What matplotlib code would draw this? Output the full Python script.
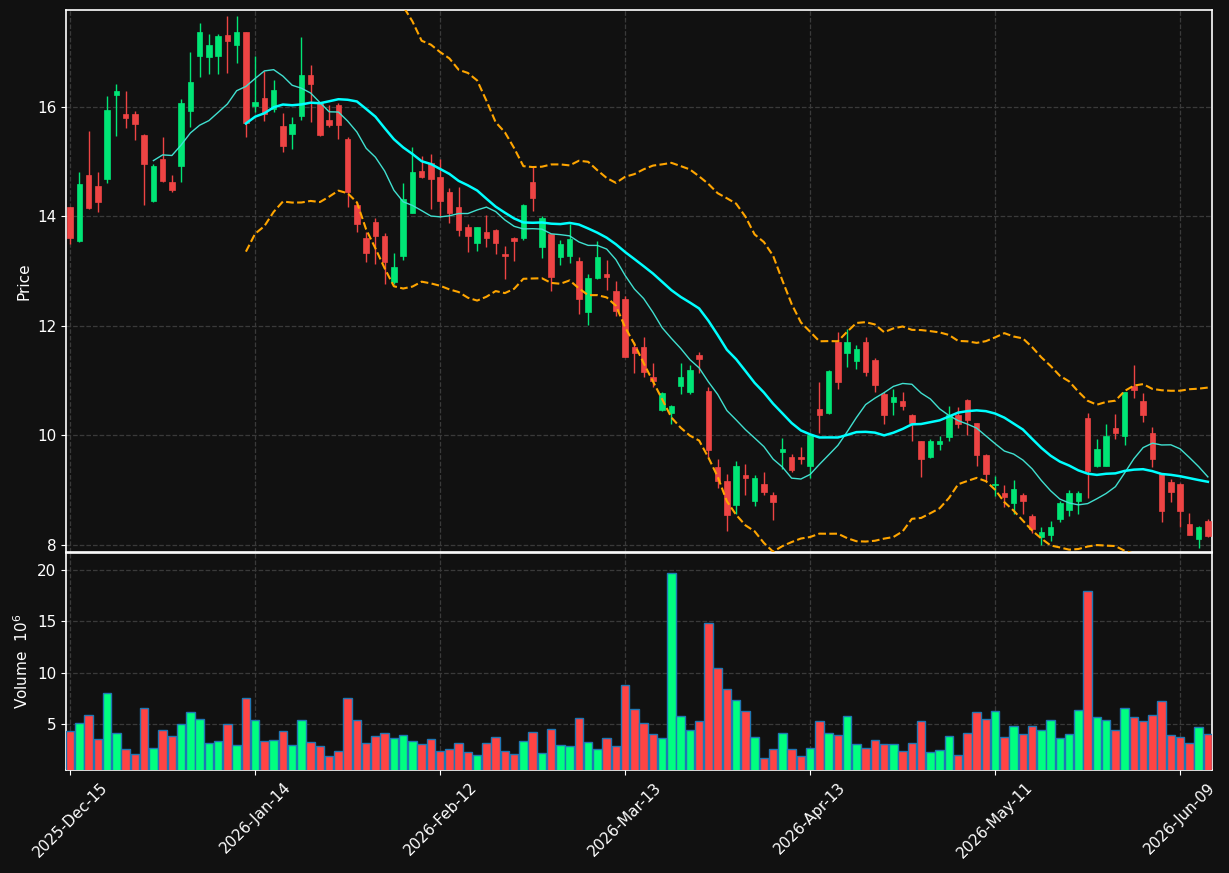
import numpy as np
import pandas as pd
import matplotlib
matplotlib.use("Agg")
import matplotlib.pyplot as plt
from matplotlib.patches import Rectangle

# Datos diarios (precio y volumen en millones)
start_date = "2025-12-15"
holidays = ["2025-12-25", "2026-01-01", "2026-01-19", "2026-02-16",
            "2026-04-03", "2026-05-25"]

opens = [14.17, 13.56, 14.76, 14.56, 14.68, 16.21, 15.88, 15.88, 15.49, 14.29,
         15.04, 14.62, 14.92, 15.92, 16.93, 16.91, 16.93, 17.32, 17.14, 17.36,
         16.02, 16.17, 15.97, 15.65, 15.50, 15.84, 16.59, 16.07, 15.77, 16.04,
         15.42, 14.21, 13.61, 13.89, 13.65, 12.81, 13.28, 14.07, 14.83, 14.97,
         14.72, 14.45, 14.17, 13.80, 13.51, 13.72, 13.76, 13.32, 13.61, 13.60,
         14.62, 13.45, 13.67, 13.26, 13.27, 13.19, 12.25, 12.87, 12.94, 12.64,
         12.50, 11.62, 11.61, 11.06, 10.46, 10.41, 10.90, 10.80, 11.46, 10.82,
         9.43, 9.16, 8.72, 9.27, 8.80, 9.12, 8.92, 9.70, 9.60, 9.61,
         9.45, 10.49, 10.41, 11.71, 11.50, 11.35, 11.70, 11.37, 10.75, 10.61,
         10.63, 10.38, 9.89, 9.61, 9.85, 9.97, 10.38, 10.65, 10.22, 9.65,
         9.09, 8.94, 8.76, 8.92, 8.52, 8.14, 8.18, 8.47, 8.63, 8.80,
         10.31, 9.44, 9.45, 10.13, 9.99, 10.90, 10.63, 10.05, 9.29, 9.14,
         9.12, 8.39, 8.11, 8.44]
highs = [14.18, 14.81, 15.56, 14.81, 16.20, 16.42, 16.29, 15.93, 15.50, 14.96,
         15.45, 14.75, 16.14, 17.00, 17.53, 17.33, 17.33, 17.66, 17.66, 17.37,
         16.93, 16.65, 16.49, 15.89, 15.82, 17.28, 16.77, 16.08, 16.03, 16.07,
         15.45, 14.27, 13.72, 13.97, 13.69, 13.33, 14.61, 15.26, 15.10, 15.14,
         15.04, 14.52, 14.53, 13.86, 13.81, 14.02, 13.77, 13.46, 13.62, 14.23,
         14.92, 14.01, 13.68, 13.57, 13.87, 13.26, 12.95, 13.56, 13.20, 12.82,
         12.55, 11.71, 11.80, 11.33, 10.80, 10.56, 11.33, 11.29, 11.52, 10.88,
         9.57, 9.30, 9.53, 9.48, 9.27, 9.33, 8.96, 9.95, 9.66, 9.78,
         10.02, 10.98, 11.20, 11.89, 11.95, 11.65, 11.80, 11.42, 10.80, 10.85,
         10.80, 10.39, 9.90, 9.94, 9.99, 10.53, 10.51, 10.66, 10.23, 9.66,
         9.25, 9.10, 9.19, 8.94, 8.57, 8.32, 8.44, 8.80, 9.01, 8.99,
         10.41, 9.94, 10.21, 10.39, 10.80, 11.29, 10.78, 10.16, 9.30, 9.20,
         9.13, 8.59, 8.34, 8.47]
lows = [13.50, 13.54, 14.13, 14.08, 14.61, 15.46, 15.61, 15.39, 14.20, 14.27,
        14.63, 14.45, 14.63, 15.64, 16.54, 16.60, 16.60, 16.62, 16.81, 15.45,
        15.90, 15.75, 15.90, 15.17, 15.24, 15.77, 15.72, 15.47, 15.64, 15.41,
        14.17, 13.72, 13.16, 13.14, 12.76, 12.77, 13.20, 14.06, 14.70, 14.14,
        13.99, 13.88, 13.65, 13.35, 13.37, 13.44, 13.31, 12.86, 13.18, 13.57,
        14.10, 13.24, 12.64, 13.11, 13.15, 12.22, 12.02, 12.86, 12.66, 12.19,
        11.44, 11.14, 11.07, 10.88, 10.44, 10.21, 10.75, 10.75, 11.14, 9.61,
        9.04, 8.26, 8.57, 8.91, 8.71, 8.91, 8.45, 9.38, 9.34, 9.48,
        9.22, 10.04, 10.39, 10.85, 11.25, 11.21, 11.08, 10.80, 10.21, 10.37,
        10.46, 9.89, 9.24, 9.58, 9.73, 9.89, 10.13, 10.00, 9.45, 9.16,
        8.89, 8.70, 8.57, 8.56, 8.21, 8.00, 8.08, 8.42, 8.52, 8.56,
        8.86, 9.42, 9.45, 9.94, 9.82, 10.69, 10.24, 9.43, 8.42, 8.78,
        8.32, 8.18, 7.95, 8.15]
closes = [13.60, 14.60, 14.16, 14.26, 15.95, 16.29, 15.79, 15.68, 14.95, 14.92,
          14.64, 14.49, 16.08, 16.46, 17.36, 17.13, 17.30, 17.21, 17.37, 15.71,
          16.09, 15.87, 16.31, 15.28, 15.69, 16.59, 16.42, 15.48, 15.67, 15.67,
          14.44, 13.87, 13.34, 13.65, 13.16, 13.08, 14.32, 14.81, 14.72, 14.68,
          14.29, 14.06, 13.76, 13.65, 13.81, 13.60, 13.51, 13.27, 13.56, 14.21,
          14.33, 13.98, 12.90, 13.50, 13.59, 12.49, 12.88, 13.26, 12.90, 12.28,
          11.44, 11.50, 11.16, 10.99, 10.77, 10.54, 11.06, 11.20, 11.39, 9.73,
          9.16, 8.54, 9.45, 9.22, 9.23, 8.97, 8.78, 9.75, 9.36, 9.57,
          10.00, 10.37, 11.18, 10.97, 11.70, 11.57, 11.16, 10.92, 10.37, 10.71,
          10.54, 10.22, 9.57, 9.89, 9.90, 10.37, 10.21, 10.28, 9.64, 9.29,
          9.12, 8.87, 9.02, 8.80, 8.29, 8.24, 8.33, 8.76, 8.94, 8.94,
          9.35, 9.76, 9.98, 10.04, 10.80, 10.83, 10.37, 9.57, 8.61, 8.97,
          8.61, 8.18, 8.32, 8.16]
volumes = [4.32, 5.07, 5.85, 3.50, 7.99, 4.09, 2.53, 2.04, 6.53, 2.63,
           4.38, 3.80, 4.97, 6.14, 5.46, 3.11, 3.31, 4.97, 2.92, 7.50,
           5.36, 3.31, 3.41, 4.28, 2.92, 5.36, 3.21, 2.82, 1.84, 2.33,
           7.50, 5.36, 3.11, 3.80, 4.09, 3.60, 3.89, 3.31, 3.02, 3.50,
           2.33, 2.53, 3.11, 2.23, 1.94, 3.11, 3.70, 2.33, 2.04, 3.31,
           4.19, 2.14, 4.48, 2.92, 2.82, 5.55, 3.21, 2.53, 3.60, 2.82,
           8.77, 6.43, 5.07, 3.99, 3.60, 19.70, 5.75, 4.38, 5.26, 14.82,
           10.43, 8.38, 7.31, 6.24, 3.70, 1.65, 2.53, 4.09, 2.53, 1.84,
           2.63, 5.26, 4.09, 3.89, 5.75, 3.02, 2.63, 3.41, 3.02, 3.02,
           2.33, 3.11, 5.26, 2.23, 2.43, 3.80, 1.94, 4.09, 6.14, 5.46,
           6.24, 3.70, 4.77, 3.99, 4.77, 4.38, 5.36, 3.60, 3.99, 6.33,
           17.95, 5.65, 5.36, 4.38, 6.53, 5.65, 5.26, 5.85, 7.21, 3.89,
           3.70, 3.11, 4.67, 3.99]

dates = pd.bdate_range(start=start_date, periods=len(closes), freq="C",
                       holidays=holidays)
df = pd.DataFrame({"Open": opens, "High": highs, "Low": lows,
                   "Close": closes, "Volume": volumes}, index=dates)

# Medias moviles y bandas de Bollinger
df["ma10"] = df["Close"].rolling(10).mean()
df["ma20"] = df["Close"].rolling(20).mean()
std20 = df["Close"].rolling(20).std(ddof=0)
df["bb_up"] = df["ma20"] + 2 * std20
df["bb_lo"] = df["ma20"] - 2 * std20

bg = "#111111"
up_c, down_c = "#00E676", "#EE4444"
vol_up, vol_down = "#00FF80", "#FF4444"

fig = plt.figure(figsize=(12.29, 8.73), dpi=100, facecolor=bg)
ax = fig.add_axes([0.0537, 0.3677, 0.9325, 0.6208])
axv = fig.add_axes([0.0537, 0.118, 0.9325, 0.2486], sharex=ax)

x = np.arange(len(df))
for i in x:
    o, h, l, c = df["Open"].iloc[i], df["High"].iloc[i], df["Low"].iloc[i], df["Close"].iloc[i]
    col = up_c if c >= o else down_c
    ax.vlines(i, l, h, color=col, linewidth=1, zorder=3)
    ax.add_patch(Rectangle((i - 0.3, min(o, c)), 0.6, max(abs(c - o), 0.01),
                           facecolor=col, edgecolor=col, linewidth=0.5, zorder=4))

ax.plot(x, df["ma10"], color="#40E0D0", linewidth=1.0, zorder=5)
ax.plot(x, df["ma20"], color="#00FFFF", linewidth=1.8, zorder=5)
ax.plot(x, df["bb_up"], color="#FFA500", linewidth=1.5, linestyle="--", zorder=5)
ax.plot(x, df["bb_lo"], color="#FFA500", linewidth=1.5, linestyle="--", zorder=5)

vcols = [vol_up if c >= o else vol_down for o, c in zip(df["Open"], df["Close"])]
axv.bar(x, df["Volume"], width=0.9, color=vcols, edgecolor="#1f77b4", linewidth=1, zorder=3)

ax.set_xlim(-0.45, len(df) - 0.55)
ax.set_ylim(7.87, 17.77)
axv.set_ylim(0.3 * min(volumes), 1.1 * max(volumes))

tick_pos = list(range(0, len(df), 20))
axv.set_xticks(tick_pos)
axv.set_xticklabels([dates[p].strftime("%Y-%b-%d") for p in tick_pos],
                    rotation=45, ha="center")
ax.tick_params(axis="x", labelbottom=False, length=0)
ax.set_yticks([8, 10, 12, 14, 16])
axv.set_yticks([5, 10, 15, 20])

ax.set_ylabel("Price", color="white", fontsize=11)
axv.set_ylabel("Volume  $10^{6}$", color="white", fontsize=11)

for a in (ax, axv):
    a.set_facecolor(bg)
    a.grid(True, color="#3a3a3a", linestyle="--", linewidth=0.9)
    a.set_axisbelow(True)
    a.tick_params(colors="white", labelsize=11)
    for s in a.spines.values():
        s.set_color("white")
        s.set_linewidth(1.2)

fig.savefig("out.png", facecolor=bg)
